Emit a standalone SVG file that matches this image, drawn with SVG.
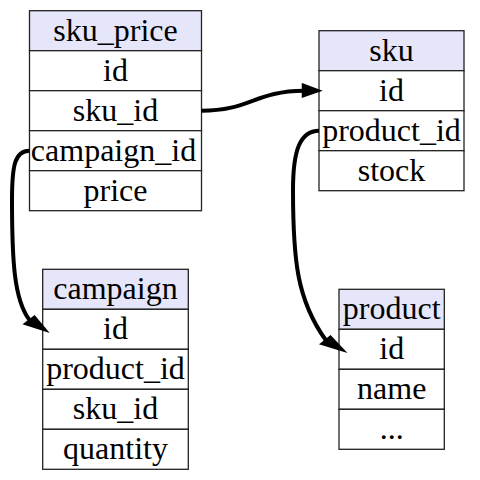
<svg xmlns="http://www.w3.org/2000/svg" width="480" height="480" viewBox="0 0 480 480">
<style>
.hd{fill:#e6e6fa;stroke:#222;stroke-width:1.3}
.cell{fill:#fff;stroke:#222;stroke-width:1.3}
text{font-family:"Liberation Serif","Times New Roman",serif;font-size:32px;fill:#000;text-anchor:middle}
.edge{fill:none;stroke:#000;stroke-width:4}
.ah{fill:#000;stroke:#000;stroke-width:1.5;stroke-linejoin:miter}
</style>
<rect width="480" height="480" fill="#fff"/>
<g id="sku_price">
<rect class="hd" x="29.5" y="10.7" width="172" height="40"/>
<rect class="cell" x="29.5" y="50.7" width="172" height="40"/>
<rect class="cell" x="29.5" y="90.7" width="172" height="40"/>
<rect class="cell" x="29.5" y="130.7" width="172" height="40"/>
<rect class="cell" x="29.5" y="170.7" width="172" height="40"/>
<text x="115.5" y="40.7">sku_price</text>
<text x="115.5" y="80.7">id</text>
<text x="115.5" y="120.7">sku_id</text>
<text x="113.5" y="160.7">campaign_id</text>
<text x="115.5" y="200.7">price</text>
</g>
<g id="sku">
<rect class="hd" x="319" y="30.7" width="145" height="40"/>
<rect class="cell" x="319" y="70.7" width="145" height="40"/>
<rect class="cell" x="319" y="110.7" width="145" height="40"/>
<rect class="cell" x="319" y="150.7" width="145" height="40"/>
<text x="391.5" y="60.7">sku</text>
<text x="391.5" y="100.7">id</text>
<text x="391.5" y="140.7">product_id</text>
<text x="391.5" y="180.7">stock</text>
</g>
<g id="campaign">
<rect class="hd" x="42.7" y="269.3" width="145.6" height="40"/>
<rect class="cell" x="42.7" y="309.3" width="145.6" height="40"/>
<rect class="cell" x="42.7" y="349.3" width="145.6" height="40"/>
<rect class="cell" x="42.7" y="389.3" width="145.6" height="40"/>
<rect class="cell" x="42.7" y="429.3" width="145.6" height="40"/>
<text x="115.5" y="299.3">campaign</text>
<text x="115.5" y="339.3">id</text>
<text x="115.5" y="379.3">product_id</text>
<text x="115.5" y="419.3">sku_id</text>
<text x="115.5" y="459.3">quantity</text>
</g>
<g id="product">
<rect class="hd" x="339" y="289.3" width="105.3" height="40"/>
<rect class="cell" x="339" y="329.3" width="105.3" height="40"/>
<rect class="cell" x="339" y="369.3" width="105.3" height="40"/>
<rect class="cell" x="339" y="409.3" width="105.3" height="40"/>
<text x="391.7" y="319.3">product</text>
<text x="391.7" y="359.3">id</text>
<text x="391.7" y="399.3">name</text>
<text x="391.7" y="439.3">...</text>
</g>
<g id="connectors">
<path class="edge" d="M201.5,110.7 C250,110.7 255,91 304,90.7"/>
<polygon class="ah" points="302.5,84 320.5,90.7 302.5,97"/>
<path class="edge" d="M29.5,150.7 C15,150.7 12,165 12,200 C12,260 14,300 29.5,320"/>
<polygon class="ah" points="24,324 34.5,316 47.5,331.5"/>
<path class="edge" d="M319,130.7 C300,131 293,150 293,190 C293,260 297,300 325.7,340"/>
<polygon class="ah" points="320.5,344 330.5,336 345,351.5"/>
</g>
</svg>
